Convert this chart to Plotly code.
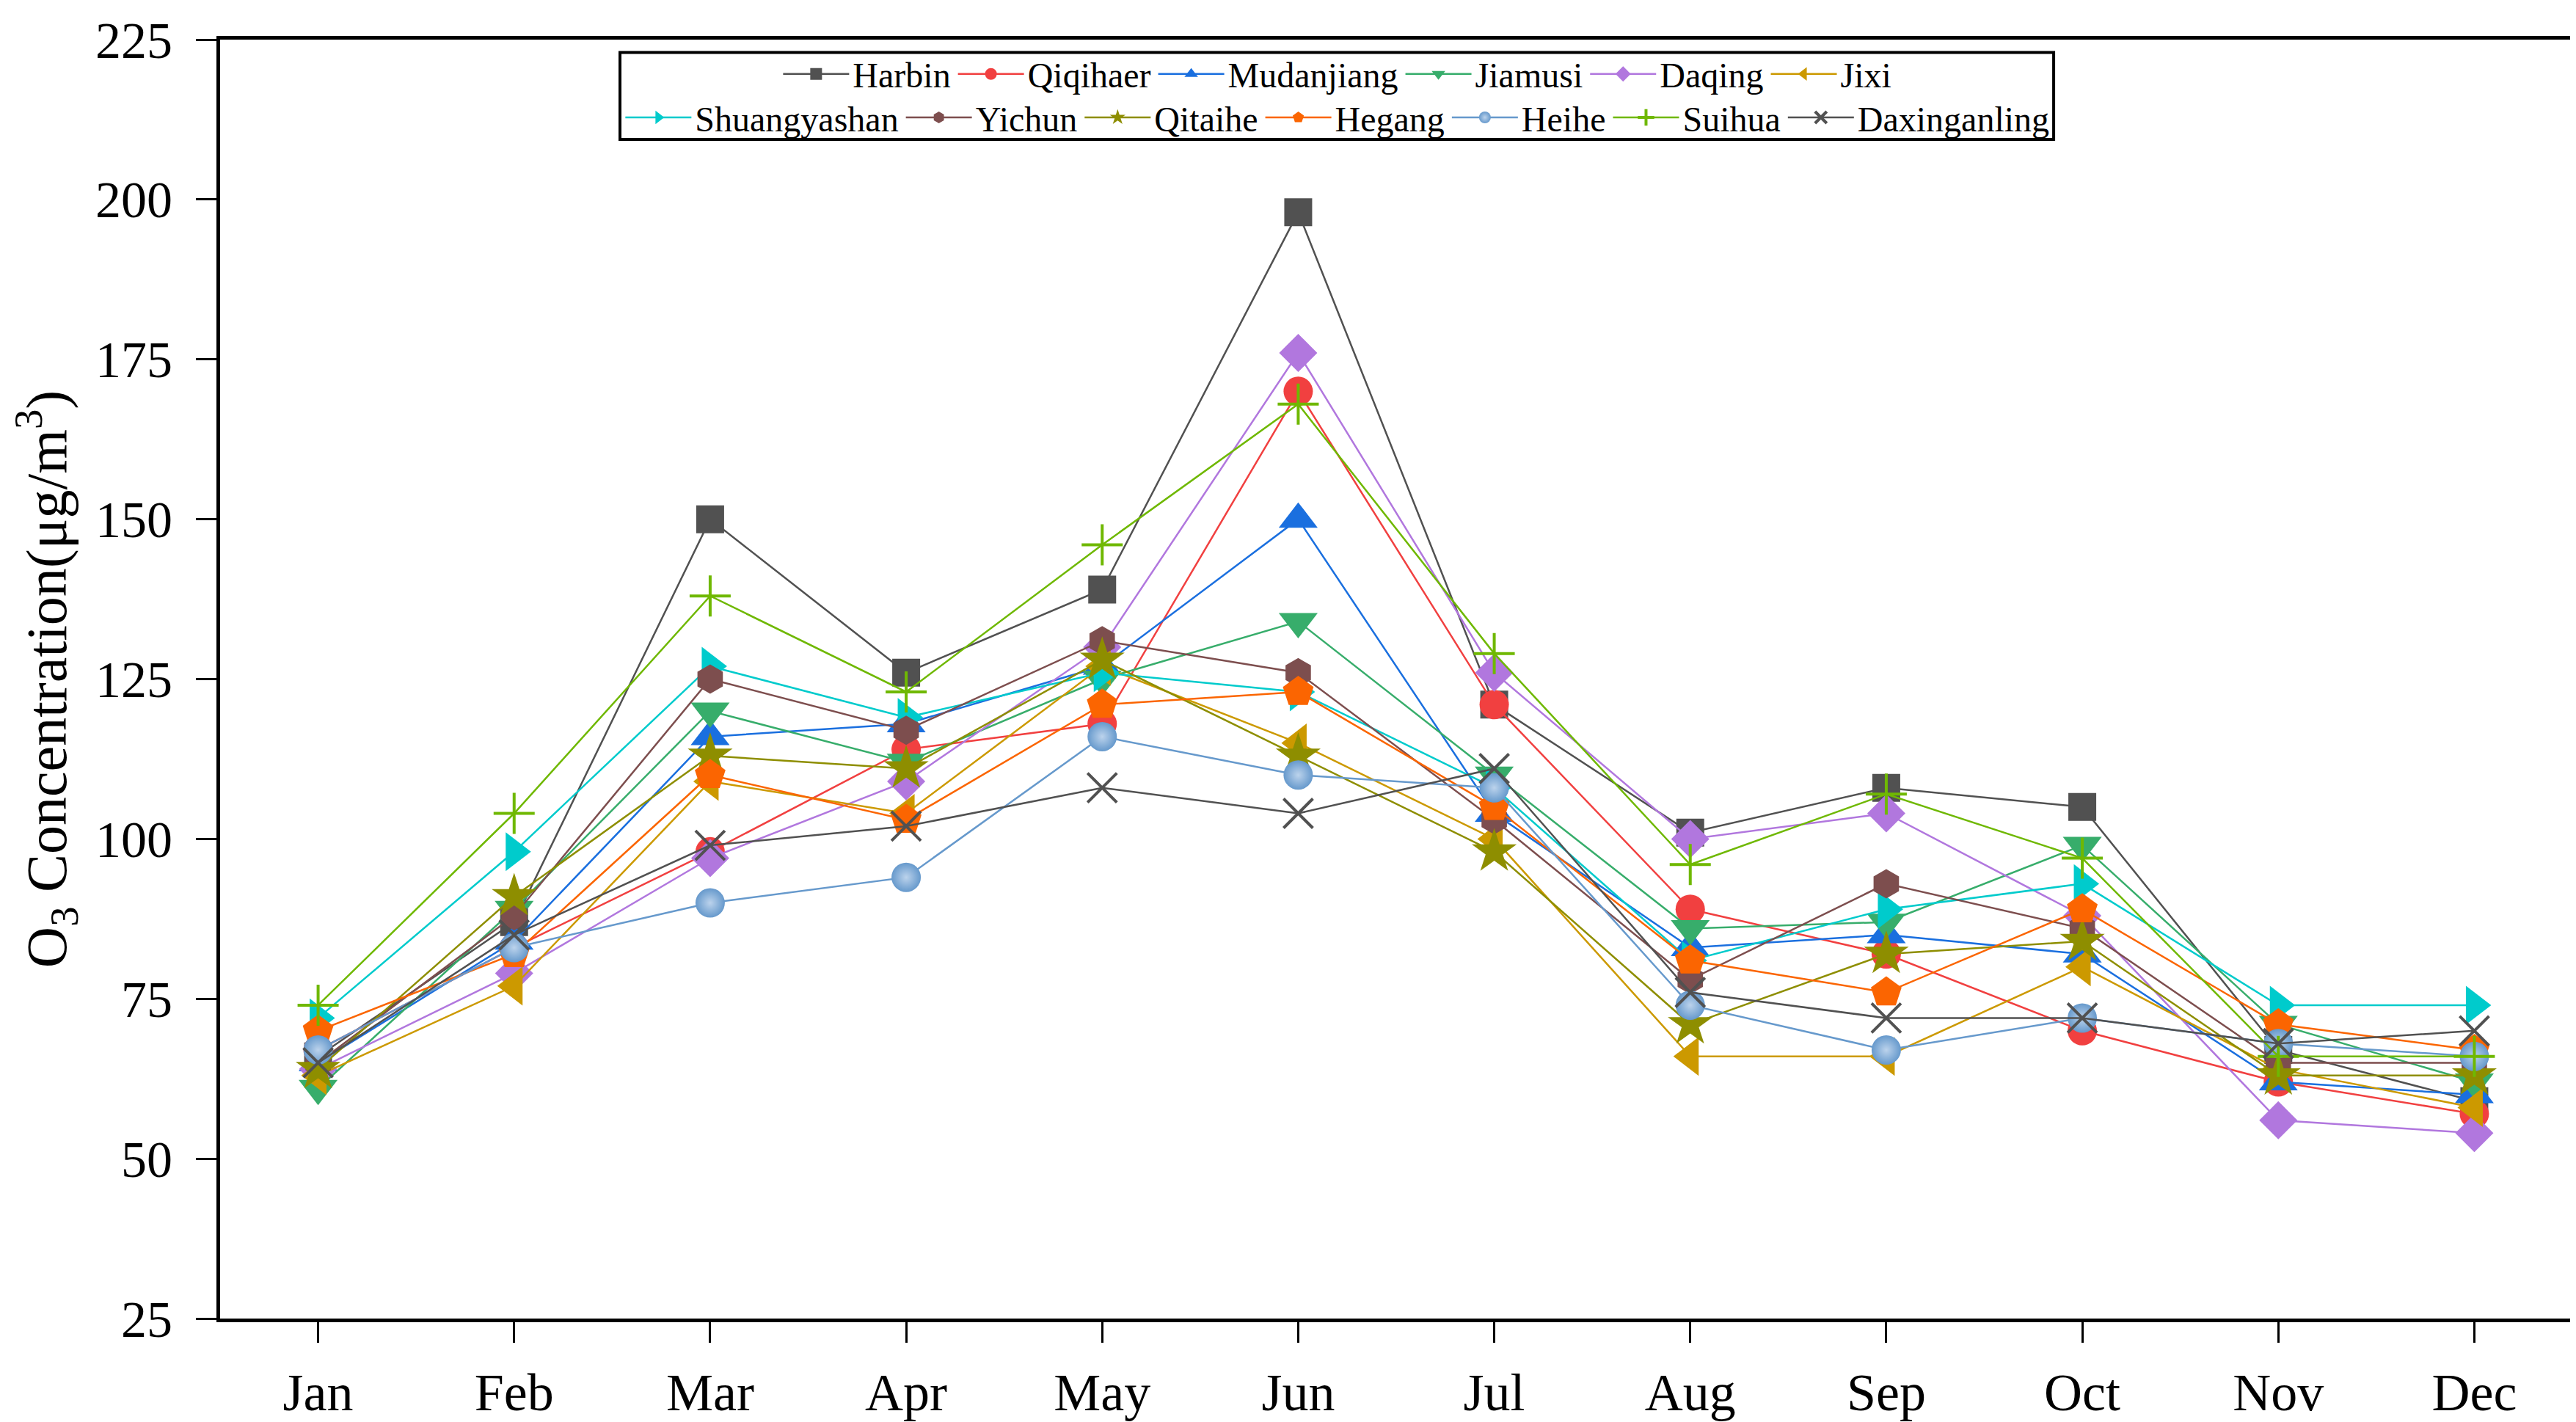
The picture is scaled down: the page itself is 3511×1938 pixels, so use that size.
import plotly.graph_objs as go

months = ["Jan", "Feb", "Mar", "Apr", "May", "Jun", "Jul", "Aug", "Sep", "Oct", "Nov", "Dec"]

# monthly mean O3 per city
harbin = [66, 87, 150, 126, 139, 198, 121, 101, 108, 105, 67, 59]
qiqihaer = [67, 83, 98, 114, 118, 170, 121, 89, 82, 70, 62, 57]
mudanjiang = [65, 84, 116, 118, 127, 150, 104, 83, 85, 82, 62, 60]
jiamusi = [61, 89, 120, 112, 125, 134, 110, 86, 87, 99, 71, 62]
daqing = [64, 79, 97, 109, 130, 176, 126, 100, 104, 88, 56, 54]
jixi = [63, 77, 109, 104, 127, 115, 100, 66, 66, 80, 64, 58]
shuangyashan = [72, 98, 127, 119, 126, 123, 108, 81, 89, 93, 74, 74]
yichun = [65, 88, 125, 117, 131, 126, 103, 78, 93, 86, 65, 65]
qitaihe = [64, 91, 113, 111, 128, 113, 98, 71, 82, 84, 63, 63]
hegang = [70, 82, 110, 103, 121, 123, 105, 81, 76, 89, 71, 67]
heihe = [67, 83, 90, 94, 116, 110, 108, 74, 67, 72, 68, 66]
suihua = [74, 104, 138, 123, 146, 168, 129, 96, 107, 97, 66, 66]
daxinganling = [65, 85, 99, 102, 108, 104, 111, 76, 72, 72, 68, 70]

# name, values, colour, symbol, marker size, legend row
cities = [
    ("Harbin", harbin, "#515151", "square", 38, "legend"),
    ("Qiqihaer", qiqihaer, "#F14040", "circle", 40, "legend"),
    ("Mudanjiang", mudanjiang, "#1A6FDF", "triangle-up", 46, "legend"),
    ("Jiamusi", jiamusi, "#37AD6B", "triangle-down", 46, "legend"),
    ("Daqing", daqing, "#B177DE", "diamond", 40, "legend"),
    ("Jixi", jixi, "#CC9900", "triangle-left", 46, "legend"),
    ("Shuangyashan", shuangyashan, "#00CBCC", "triangle-right", 46, "legend2"),
    ("Yichun", yichun, "#7D4E4E", "hexagon", 40, "legend2"),
    ("Qitaihe", qitaihe, "#8E8E00", "star", 46, "legend2"),
    ("Hegang", hegang, "#FB6501", "pentagon", 44, "legend2"),
    ("Heihe", heihe, "#6699CC", "circle", 40, "legend2"),
    ("Suihua", suihua, "#6FB802", "cross-thin", 40, "legend2"),
    ("Daxinganling", daxinganling, "#515151", "x-thin", 40, "legend2"),
]

FONT = "Liberation Serif"

fig = go.Figure()

for name, vals, color, symbol, size, leg in cities:
    marker = dict(symbol=symbol, size=size, color=color, line=dict(width=0))
    if symbol in ("cross-thin", "x-thin"):
        marker["line"] = dict(width=4, color=color)
    if name == "Heihe":
        # shaded ball look
        marker["gradient"] = dict(type="radial", color="#bcd3ec")
    fig.add_trace(
        go.Scatter(
            x=months,
            y=vals,
            name=name,
            mode="lines+markers",
            line=dict(color=color, width=2.5),
            marker=marker,
            legend=leg,
        )
    )

legend_style = dict(
    orientation="h",
    font=dict(family=FONT, size=48, color="black"),
    bgcolor="rgba(0,0,0,0)",
    borderwidth=0,
    itemwidth=90,
    xanchor="center",
    yanchor="middle",
    x=0.475,
    tracegroupgap=0,
)

fig.update_layout(
    width=3511,
    height=1938,
    margin=dict(l=292, r=8, t=44, b=136),
    paper_bgcolor="white",
    plot_bgcolor="white",
    font=dict(family=FONT, color="black"),
    legend=dict(legend_style, y=0.973),
    legend2=dict(legend_style, y=0.939),
    shapes=[
        dict(
            type="rect", xref="paper", yref="paper",
            x0=0.170, x1=0.7795, y0=0.922, y1=0.990,
            line=dict(color="black", width=4),
            fillcolor="rgba(0,0,0,0)",
            layer="below",
        )
    ],
)

fig.update_xaxes(
    range=[-0.5, 11.5],
    showgrid=False,
    showline=True,
    linecolor="black",
    linewidth=5,
    mirror=True,
    ticks="outside",
    ticklen=28,
    tickwidth=3,
    tickcolor="black",
    ticklabelstandoff=6,
    tickfont=dict(family=FONT, size=72, color="black"),
)

fig.update_yaxes(
    range=[25, 225],
    tickvals=[25, 50, 75, 100, 125, 150, 175, 200, 225],
    showgrid=False,
    zeroline=False,
    showline=True,
    linecolor="black",
    linewidth=5,
    mirror=True,
    ticks="outside",
    ticklen=28,
    tickwidth=3,
    tickcolor="black",
    ticklabelstandoff=18,
    tickfont=dict(family=FONT, size=70, color="black"),
    title=dict(
        text="O<sub>3</sub> Concentration(μg/m<sup>3</sup>)",
        font=dict(family=FONT, size=78, color="black"),
        standoff=22,
    ),
)

fig.write_html("out.html")
